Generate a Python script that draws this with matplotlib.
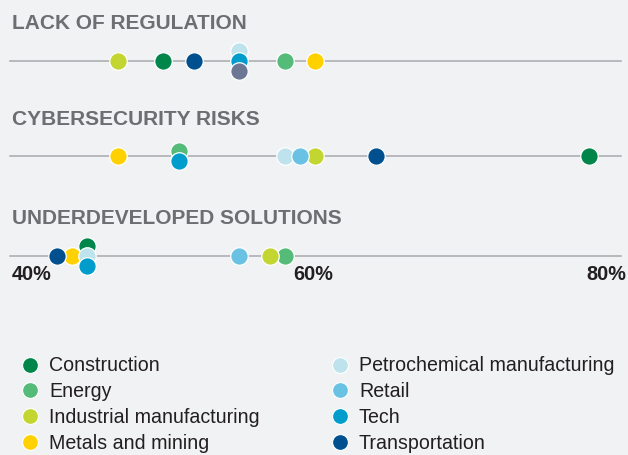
import matplotlib.pyplot as plt

# industries, in legend order
categories = [
    "Construction",
    "Energy",
    "Industrial manufacturing",
    "Metals and mining",
    "Petrochemical manufacturing",
    "Retail",
    "Tech",
    "Transportation",
]
colors = ["#00854A", "#55BB78", "#C3D530", "#FFD100",
          "#BEE3ED", "#69C2E3", "#009CCB", "#00508F"]

rows = ["LACK OF REGULATION", "CYBERSECURITY RISKS", "UNDERDEVELOPED SOLUTIONS"]

# share of respondents (%) per industry, same order as categories
lack_of_regulation = [50, 58, 47, 60, 55, 55, 55, 52]
cybersecurity_risks = [78, 51, 60, 47, 58, 59, 51, 64]
underdeveloped_solutions = [45, 58, 57, 44, 45, 55, 45, 43]

tick_values = [40, 60, 80]
tick_labels = ["40%", "60%", "80%"]

# retail shows up in a grey-blue in the first row of the original
odd_point = ("LACK OF REGULATION", "Retail", "#6B7793")

values = [lack_of_regulation, cybersecurity_risks, underdeveloped_solutions]

BG = "#F1F2F4"
W, H = 628, 456
fig = plt.figure(figsize=(W / 100, H / 100), dpi=100, facecolor=BG)
ax = fig.add_axes([0, 0, 1, 1], facecolor=BG)

# x in percent, y in pixels from the top
px0, scale = 11.2, 15.21
ax.set_xlim(40 - px0 / scale, 40 + (W - px0) / scale)
ax.set_ylim(H, 0)
ax.axis("off")

FONT = "Liberation Sans"
line_y = [62, 157, 257]
title_y = [29, 125, 224]
step = 9.6

for r, (title, vals) in enumerate(zip(rows, values)):
    ax.text(40 + (12 - px0) / scale, title_y[r], title, family=FONT,
            fontweight="bold", fontsize=15, color="#6D6E71", va="baseline")
    ax.axhline(line_y[r], xmin=10 / W, xmax=621 / W, color="#A8AAAD", lw=1.1,
               zorder=1)
    # stack industries that share a value
    groups = {}
    for i, v in enumerate(vals):
        groups.setdefault(v, []).append(i)
    for v, idx in groups.items():
        if title == odd_point[0]:
            k = categories.index(odd_point[1])
            if k in idx:
                idx = [i for i in idx if i != k] + [k]
        n = len(idx)
        for j, i in enumerate(idx):
            c = colors[i]
            if title == odd_point[0] and categories[i] == odd_point[1]:
                c = odd_point[2]
            ax.plot(v, line_y[r] + (j - (n - 1) / 2) * step, "o", ms=12.6,
                    mfc=c, mec="white", mew=0.9, zorder=2 + j * 0.01)

# axis labels under the last row
for v, lab in zip(tick_values, tick_labels):
    ha = {40: "left", 60: "center", 80: "right"}[v]
    x = v + (0.05 if v == 40 else 0.45 if v == 80 else -0.15)
    ax.text(x, 280, lab, family=FONT, fontweight="bold", fontsize=14.3,
            color="#231F20", ha=ha, va="baseline")

# legend, two columns of four
leg_x = [30.5, 340]
leg_y0, leg_dy = 365.5, 26
for i, (cat, c) in enumerate(zip(categories, colors)):
    col, row = divmod(i, 4)
    y = leg_y0 + row * leg_dy
    mx = 40 + (leg_x[col] - px0) / scale
    ax.plot(mx, y, "o", ms=11.4, mfc=c, mec="white", mew=0.8, clip_on=False)
    ax.text(mx + 19 / scale, y + 0.5, cat, family=FONT, fontsize=14.1,
            color="#231F20", va="center")

fig.savefig("out.png", dpi=100, facecolor=BG)
